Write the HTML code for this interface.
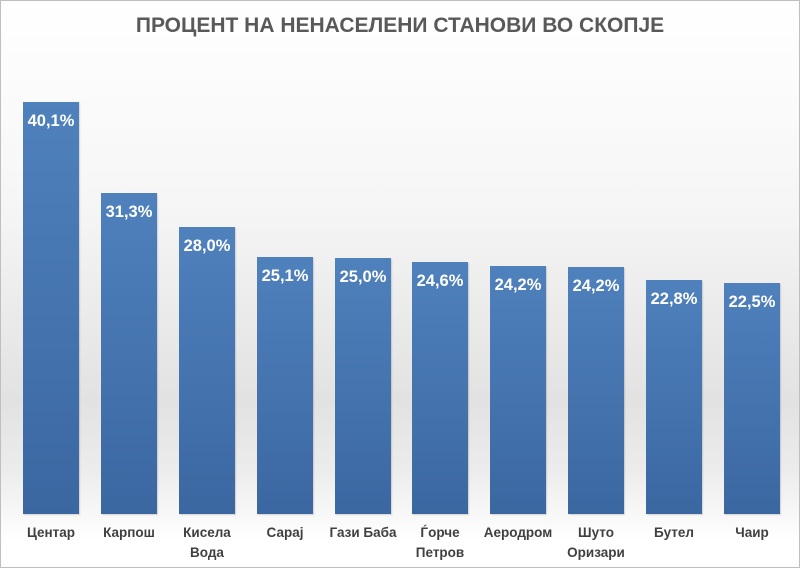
<!DOCTYPE html>
<html><head><meta charset="utf-8"><style>
body{margin:0;}
#c{position:relative;width:798px;height:566px;border:1px solid #bfbfbf;overflow:hidden;
background:linear-gradient(to bottom,#ffffff 0px,#f6f6f6 200px,#e2e2e2 400px,#ececec 470px,#ffffff 540px);font-family:"Liberation Sans",sans-serif;}
.t{position:absolute;top:13px;left:0;width:798px;text-align:center;font-size:21px;font-weight:bold;color:#595959;}
.b{position:absolute;width:56px;background:linear-gradient(to bottom,#4f81bd,#3b67a1);box-shadow:1px 1px 1px rgba(0,0,0,0.15);}
.v{position:absolute;width:70px;text-align:center;color:#fff;font-weight:bold;font-size:16.5px;}
.l{position:absolute;top:522px;width:90px;text-align:center;color:#404040;font-weight:bold;font-size:13.5px;line-height:20px;}
</style></head><body><div id="c">
<div class="t">ПРОЦЕНТ НА НЕНАСЕЛЕНИ СТАНОВИ ВО СКОПЈЕ</div>
<div id="bars"></div>
<script>
var d=[["Центар",22,101,"40,1%"],["Карпош",100,192,"31,3%"],["Кисела<br>Вода",178,226,"28,0%"],["Сарај",256,256,"25,1%"],["Гази Баба",334,257,"25,0%"],["Ѓорче<br>Петров",411,261,"24,6%"],["Аеродром",489,265,"24,2%"],["Шуто<br>Оризари",567,266,"24,2%"],["Бутел",645,279,"22,8%"],["Чаир",723,282,"22,5%"]];
var h="";d.forEach(function(e){h+='<div class="b" style="left:'+e[1]+'px;top:'+e[2]+'px;height:'+(513-e[2])+'px"></div>';
h+='<div class="v" style="left:'+(e[1]-7)+'px;top:'+(e[2]+10)+'px">'+e[3]+'</div>';
h+='<div class="l" style="left:'+(e[1]-17)+'px">'+e[0]+'</div>';});
document.getElementById("bars").innerHTML=h;
</script>
</div></body></html>
